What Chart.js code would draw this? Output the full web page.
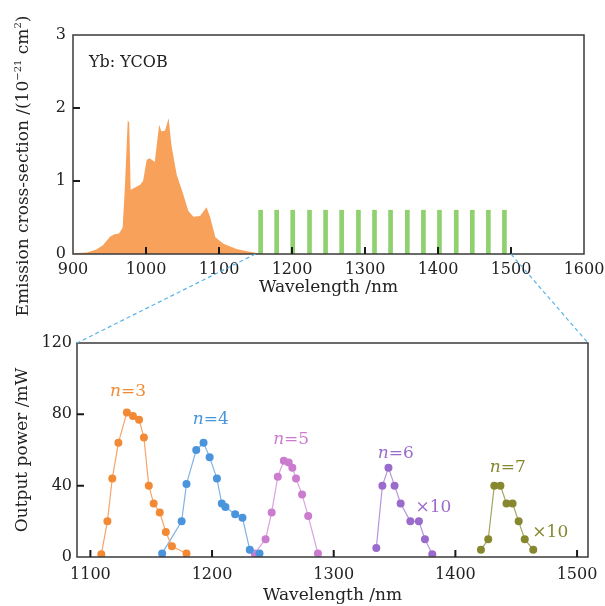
<!DOCTYPE html>
<html>
<head>
<meta charset="UTF-8">
<title>Yb:YCOB emission and output power</title>
<script src="https://cdn.jsdelivr.net/npm/chart.js@4.4.1/dist/chart.umd.min.js"></script>
<style>
  body {
    margin: 0;
    background: #ffffff;
    width: 605px;
    height: 606px;
    overflow: hidden;
    position: relative;
    font-family: 'DejaVu Serif', serif;
  }
  #top_chart { position: absolute; left: 0; top: 0; }
  #bottom_chart { position: absolute; left: 0; top: 250px; }
  #top_ytitle {
    position: absolute;
    left: -178px;
    top: 155px;
    width: 400px;
    height: 22px;
    line-height: 22px;
    text-align: center;
    font-size: 17px;
    color: #222;
    transform: rotate(-90deg);
    white-space: nowrap;
  }
  #top_ytitle sup {
    font-size: 10px;
    line-height: 0;
  }
</style>
</head>
<body>
<canvas id="top_chart" width="605" height="300"></canvas>
<canvas id="bottom_chart" width="605" height="356"></canvas>
<div id="top_ytitle">Emission cross-section /(10<sup>&minus;21</sup> cm<sup>2</sup>)</div>
<script>

// ---- top panel: emission spectrum ----
const specX = [900, 919, 932, 941, 951, 957, 963, 968, 971, 975, 977, 979, 985, 992, 996, 1001, 1005, 1012, 1018, 1021, 1026, 1031, 1035, 1042, 1051, 1058, 1065, 1074, 1083, 1088, 1095, 1106, 1124, 1142, 1160];
const specY = [0.01, 0.02, 0.06, 0.12, 0.24, 0.27, 0.28, 0.36, 0.9, 1.83, 1.8, 0.88, 0.91, 0.95, 1.0, 1.29, 1.31, 1.26, 1.77, 1.68, 1.69, 1.86, 1.48, 1.09, 0.82, 0.59, 0.51, 0.52, 0.64, 0.5, 0.23, 0.14, 0.07, 0.03, 0];
// raman comb lines
const combX = [1157, 1179, 1201, 1224, 1246, 1268, 1291, 1313, 1335, 1358, 1380, 1402, 1425, 1447, 1469, 1491];
const combY = [0.6, 0.6, 0.6, 0.6, 0.6, 0.6, 0.6, 0.6, 0.6, 0.6, 0.6, 0.6, 0.6, 0.6, 0.6, 0.6];
const topXTicks = [900, 1000, 1100, 1200, 1300, 1400, 1500, 1600];
const topYTicks = [0, 1, 2, 3];
const TOP_NOTE = 'Yb: YCOB';

// ---- bottom panel: output power ----
const n3X = [1109, 1114, 1118, 1123, 1130, 1135, 1140, 1144, 1148, 1152, 1157, 1162, 1167, 1179];
const n3Y = [1.5, 20, 44, 64, 81, 79, 77, 67, 40, 30, 25, 14, 6, 2];
const n4X = [1159, 1175, 1179, 1187, 1193, 1198, 1204, 1208, 1211, 1219, 1225, 1231, 1239];
const n4Y = [2, 20, 41, 60, 64, 56, 44, 30, 28, 24, 22, 4, 2];
const n5X = [1235, 1244, 1249, 1254, 1259, 1263, 1266, 1269, 1274, 1279, 1287];
const n5Y = [2, 10, 25, 45, 54, 53, 50, 44, 35, 23, 2];
const n6X = [1335, 1340, 1345, 1350, 1355, 1363, 1370, 1375, 1381];
const n6Y = [5, 40, 50, 40, 30, 20, 20, 10, 1.5];
const n7X = [1421, 1427, 1432, 1437, 1442, 1447, 1452, 1457, 1464];
const n7Y = [4, 10, 40, 40, 30, 30, 20, 10, 4];
const bottomXTicks = [1100, 1200, 1300, 1400, 1500];
const bottomYTicks = [0, 40, 80, 120];

const orderNames = ['3', '4', '5', '6', '7'];
const orderLabelX = [1131, 1199, 1265, 1351, 1443];
const orderLabelY = [93, 77, 66, 58, 50];
const scaleNoteText = ['\u00d710', '\u00d710'];
const scaleNoteX = [1382, 1478];
const scaleNoteY = [27.5, 13.5];
const scaleNoteColor = ['#9b6bcb', '#86872f'];

const seriesColor = ['#f28a35', '#4a94dc', '#cc7ccf', '#9b6bcb', '#86872f'];
const seriesLine = ['#f6a46a', '#7fb3e6', '#dba3dd', '#b596dc', '#a5a660'];

const ZOOM_FROM = 1150;
const ZOOM_TO = 1500;
const BOTTOM_CANVAS_TOP = 250;

Chart.defaults.font.family = "'DejaVu Serif', serif";
Chart.defaults.font.size = 16;
Chart.defaults.color = '#222';

function drawInnerTicks(chart, xValues, yValues) {
  const ctx = chart.ctx;
  const a = chart.chartArea;
  const sx = chart.scales.x;
  const sy = chart.scales.y;
  ctx.save();
  ctx.strokeStyle = '#1a1a1a';
  ctx.lineWidth = 2;
  ctx.setLineDash([]);
  ctx.beginPath();
  xValues.forEach(v => {
    const px = sx.getPixelForValue(v);
    if (px - a.left < 4 || a.right - px < 4) return;
    ctx.moveTo(px, a.bottom);
    ctx.lineTo(px, a.bottom - 7);
  });
  yValues.forEach(v => {
    const py = sy.getPixelForValue(v);
    if (py - a.top < 4 || a.bottom - py < 4) return;
    ctx.moveTo(a.left, py);
    ctx.lineTo(a.left + 7, py);
  });
  ctx.stroke();
  ctx.restore();
}

function drawFrame(chart) {
  const ctx = chart.ctx;
  const a = chart.chartArea;
  ctx.save();
  ctx.strokeStyle = '#3a3a3a';
  ctx.lineWidth = 1.5;
  ctx.strokeRect(a.left, a.top, a.right - a.left, a.bottom - a.top);
  ctx.restore();
}

const topDecorPlugin = {
  id: 'topDecor',
  afterDraw(chart) {
    drawFrame(chart);
    drawInnerTicks(chart, topXTicks, topYTicks);
    const ctx = chart.ctx;
    const a = chart.chartArea;
    ctx.save();
    ctx.font = "16px 'DejaVu Serif', serif";
    ctx.fillStyle = '#222';
    ctx.textBaseline = 'middle';
    ctx.fillText(TOP_NOTE, a.left + 16, a.top + 28);
    ctx.restore();
  }
};

const bottomDecorPlugin = {
  id: 'bottomDecor',
  afterDraw(chart) {
    drawFrame(chart);
    drawInnerTicks(chart, bottomXTicks, bottomYTicks);
    const ctx = chart.ctx;
    const a = chart.chartArea;
    const sx = chart.scales.x;
    const sy = chart.scales.y;
    const italic = "italic 17px 'DejaVu Serif', serif";
    const normal = "17px 'DejaVu Serif', serif";
    ctx.save();
    ctx.textBaseline = 'middle';
    orderNames.forEach((name, i) => {
      const rest = '=' + name;
      ctx.font = italic;
      const wN = ctx.measureText('n').width;
      ctx.font = normal;
      const wR = ctx.measureText(rest).width;
      const cx = sx.getPixelForValue(orderLabelX[i]);
      const cy = sy.getPixelForValue(orderLabelY[i]);
      const x0 = cx - (wN + wR) / 2;
      ctx.fillStyle = seriesColor[i];
      ctx.font = italic;
      ctx.fillText('n', x0, cy);
      ctx.font = normal;
      ctx.fillText(rest, x0 + wN, cy);
    });
    ctx.textAlign = 'center';
    scaleNoteText.forEach((txt, i) => {
      ctx.fillStyle = scaleNoteColor[i];
      ctx.fillText(txt, sx.getPixelForValue(scaleNoteX[i]), sy.getPixelForValue(scaleNoteY[i]));
    });
    ctx.restore();

    // dashed zoom connectors from the top panel
    const tx = topChart.scales.x;
    const y0 = topChart.chartArea.bottom - BOTTOM_CANVAS_TOP;
    ctx.save();
    ctx.strokeStyle = '#5ab4e6';
    ctx.lineWidth = 1.2;
    ctx.setLineDash([4, 3]);
    ctx.beginPath();
    ctx.moveTo(tx.getPixelForValue(ZOOM_FROM), y0);
    ctx.lineTo(a.left, a.top);
    ctx.moveTo(tx.getPixelForValue(ZOOM_TO), y0);
    ctx.lineTo(a.right, a.top);
    ctx.stroke();
    ctx.restore();
  }
};

function toPoints(xs, ys) {
  return xs.map((x, i) => ({ x: x, y: ys[i] }));
}

function fixedTicks(values) {
  return scale => { scale.ticks = values.map(v => ({ value: v })); };
}

function fitX(h) {
  return s => { s.height = h; s.paddingLeft = 0; s.paddingRight = 0; };
}

function fitY(w) {
  return s => { s.width = w; s.paddingTop = 0; s.paddingBottom = 0; };
}

const plainLabel = v => String(v);

var topChart = new Chart(document.getElementById('top_chart'), {
  type: 'line',
  data: {
    datasets: [{
      type: 'line',
      data: toPoints(specX, specY),
      fill: 'origin',
      backgroundColor: '#f7a15b',
      borderWidth: 0,
      pointRadius: 0,
      tension: 0,
      order: 2,
    }, {
      type: 'bar',
      data: toPoints(combX, combY),
      backgroundColor: '#8ed16e',
      barThickness: 4,
      order: 1,
    }],
  },
  options: {
    responsive: false,
    animation: false,
    layout: { padding: { left: 0, right: 21, top: 35, bottom: 0 } },
    plugins: { legend: { display: false }, tooltip: { enabled: false } },
    scales: {
      x: {
        type: 'linear',
        offset: false,
        min: 900,
        max: 1600,
        afterBuildTicks: fixedTicks(topXTicks),
        afterFit: fitX(46),
        grid: { display: false, drawTicks: false, offset: false },
        border: { display: false },
        ticks: { padding: 6, callback: plainLabel },
        title: { display: true, text: 'Wavelength /nm', font: { size: 17 }, padding: { top: 0, bottom: 2 } },
      },
      y: {
        min: 0,
        max: 3,
        afterBuildTicks: fixedTicks(topYTicks),
        afterFit: fitY(73),
        grid: { display: false, drawTicks: false },
        border: { display: false },
        ticks: { padding: 7, callback: plainLabel },
      },
    },
  },
  plugins: [topDecorPlugin],
});

const seriesX = [n3X, n4X, n5X, n6X, n7X];
const seriesY = [n3Y, n4Y, n5Y, n6Y, n7Y];

var bottomChart = new Chart(document.getElementById('bottom_chart'), {
  type: 'line',
  data: {
    datasets: seriesX.map((xs, i) => ({
      label: 'n=' + orderNames[i],
      data: toPoints(xs, seriesY[i]),
      borderColor: seriesLine[i],
      borderWidth: 1.2,
      pointRadius: 4,
      pointBackgroundColor: seriesColor[i],
      pointBorderWidth: 0,
      tension: 0,
      fill: false,
    })),
  },
  options: {
    responsive: false,
    animation: false,
    layout: { padding: { left: 0, right: 17, top: 93, bottom: 0 } },
    plugins: { legend: { display: false }, tooltip: { enabled: false } },
    scales: {
      x: {
        type: 'linear',
        min: 1089,
        max: 1509,
        afterBuildTicks: fixedTicks(bottomXTicks),
        afterFit: fitX(49),
        grid: { display: false, drawTicks: false },
        border: { display: false },
        ticks: { padding: 8, callback: plainLabel },
        title: { display: true, text: 'Wavelength /nm', font: { size: 17 }, padding: { top: 0, bottom: 0 } },
      },
      y: {
        min: 0,
        max: 120,
        afterBuildTicks: fixedTicks(bottomYTicks),
        afterFit: fitY(77),
        grid: { display: false, drawTicks: false },
        border: { display: false },
        ticks: { padding: 5, callback: plainLabel },
        title: { display: true, text: 'Output power /mW', font: { size: 17 }, padding: { top: 12, bottom: 0 } },
      },
    },
  },
  plugins: [bottomDecorPlugin],
});
</script>
</body>
</html>
